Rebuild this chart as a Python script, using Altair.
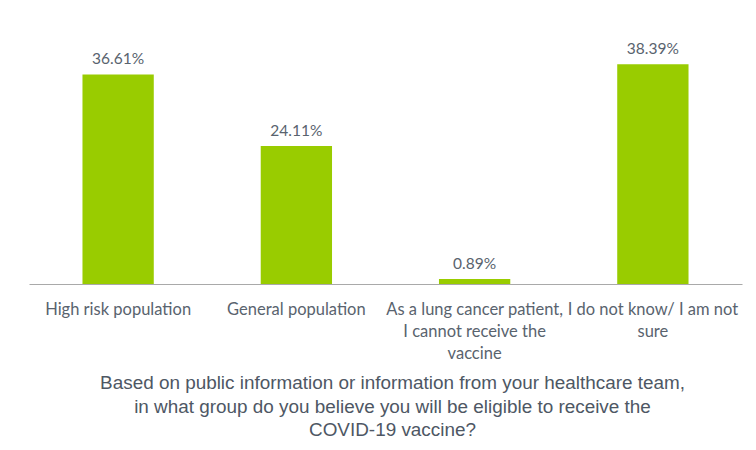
import altair as alt
import pandas as pd

categories = [
    "High risk population",
    "General population",
    "As a lung cancer patient,|I cannot receive the|vaccine",
    "I do not know/ I am not|sure",
]
values = [36.61, 24.11, 0.89, 38.39]
title_lines = [
    "Based on public information or information from your healthcare team,",
    "in what group do you believe you will be eligible to receive the",
    "COVID-19 vaccine?",
]

df = pd.DataFrame({"cat": categories, "value": values})

TEXT = "#59636e"

x = alt.X(
    "cat:N",
    sort=categories,
    scale=alt.Scale(paddingInner=0.6, paddingOuter=0.3),
    axis=alt.Axis(
        title=title_lines,
        titleFont="Liberation Sans",
        titleFontSize=18.9,
        titleFontWeight="normal",
        titleColor="#4e5764",
        titleLineHeight=23.5,
        titlePadding=12,
        titleX=363,
        titleAlign="center",
        labelExpr="split(datum.label, '|')",
        labelFont="Lato",
        labelFontSize=16.5,
        labelColor=TEXT,
        labelLineHeight=22,
        labelPadding=17,
        labelAngle=0,
        labelOverlap=False,
        labelBound=False,
        labelFlush=False,
        labelLimit=0,
        ticks=False,
        domainColor="#a9a9a9",
        domainWidth=1.2,
    ),
)
y = alt.Y("value:Q", scale=alt.Scale(domain=[0, 40], nice=False), axis=None)

base = alt.Chart(df).encode(x=x, y=y)
bars = base.mark_bar(color="#99cc00")
text = base.transform_calculate(
    label="format(datum.value, '.2f') + '%'"
).mark_text(
    baseline="alphabetic", dy=-10, font="Lato", fontSize=15.5, color=TEXT
).encode(text="label:N")

chart = (
    (bars + text)
    .properties(
        width=713,
        height=229,
        autosize=alt.AutoSizeParams(type="none"),
        padding={"left": 21, "top": 47, "right": 6, "bottom": 157},
        background="white",
    )
    .configure_view(stroke=None)
)

chart.save("out.html", embed_options={"renderer": "svg", "actions": False})
